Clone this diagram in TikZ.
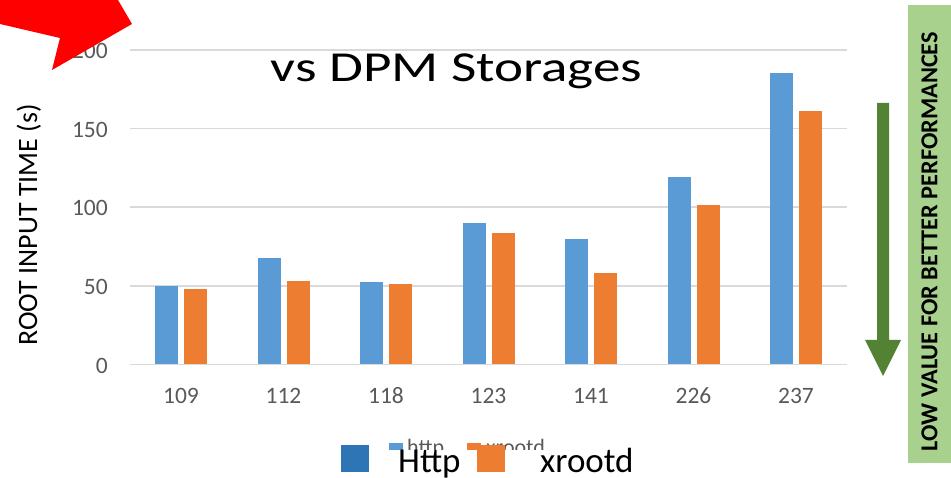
\documentclass[tikz,border=0pt]{standalone}
\usepackage{fontspec}
\setmainfont{Carlito}
\definecolor{barblue}{HTML}{5B9BD5}
\definecolor{barorange}{HTML}{ED7D31}
\definecolor{legblue}{HTML}{2E75B6}
\definecolor{gridgrey}{HTML}{D9D9D9}
\definecolor{ticktext}{HTML}{595959}
\definecolor{lightgreen}{HTML}{A9D18E}
\definecolor{darkgreen}{HTML}{548235}
\begin{document}
\begin{tikzpicture}[x=1pt,y=-1pt,
  gridline/.style={draw=gridgrey,line width=1.5pt},
  ticklabel/.style={text=ticktext,font=\fontsize{23.5}{24}\selectfont,inner sep=0pt},
  catlabel/.style={text=ticktext,font=\fontsize{23.5}{24}\selectfont,inner sep=0pt,anchor=base},
  smalllegend/.style={text=ticktext,font=\fontsize{22}{22}\selectfont,inner sep=0pt,anchor=base west},
  biglegend/.style={text=black,font=\fontsize{35}{35}\selectfont,inner sep=0pt,anchor=base west}]
\useasboundingbox (0,0) rectangle (951,478);
% gridlines
\foreach \v in {0,50,100,150,200}{
  \draw[gridline] (130,{364.5-1.5725*\v}) -- (847,{364.5-1.5725*\v});
  \node[ticklabel,anchor=east] (tick\v) at (108,{365.5-1.5725*\v}) {\v};
}
% bars
\foreach \i/\lab/\a/\b in {0/109/50/48,1/112/68/53.3,2/118/52.6/51.5,3/123/90/83.9,4/141/79.5/58.1,5/226/119/101.3,6/237/185.3/161}{
  \pgfmathsetmacro{\c}{181+102.5*\i}
  \fill[barblue] ({\c-26},364.5) rectangle ({\c-3},{364.5-1.5725*\a});
  \fill[barorange] ({\c+3},364.5) rectangle ({\c+26},{364.5-1.5725*\b});
  \node[catlabel] (cat\lab) at (\c,403) {\lab};
}
% title
\node[anchor=base,inner sep=0pt] (title) at (456.5,82)
  {\scalebox{1.29}[1]{\fontsize{42.7}{43}\selectfont vs DPM Storages}};
% y label
\node[rotate=90,anchor=base,inner sep=0pt,font=\fontsize{28}{28}\selectfont] (ylabel) at (37,225) {ROOT INPUT TIME (s)};
% red arrow
\fill[red] (0,0) -- (118,0) -- (132,24) -- (52,70) -- (60,38) -- (0,24) -- cycle;
% green panel
\fill[lightgreen] (908,5) rectangle (951,463);
\node[rotate=90,anchor=base,inner sep=0pt,font=\fontsize{24.3}{24}\selectfont\bfseries] (note) at (937.3,241.5) {LOW VALUE FOR BETTER PERFORMANCES};
\fill[darkgreen] (877,103) -- (889,103) -- (889,340) -- (901,340) -- (883,376) -- (865,340) -- (877,340) -- cycle;
% small legend
\fill[barblue] (389,443) rectangle (403,457);
\node[smalllegend] (lhttp) at (407,454) {http};
\fill[barorange] (467,443) rectangle (481,457);
\node[smalllegend] (lxrootd) at (486,454) {xrootd};
% big legend
\fill[white] (335,449.5) rectangle (640,478);
\fill[legblue] (341,445) rectangle (369,472);
\node[biglegend] (bhttp) at (398,472) {Http};
\fill[barorange] (477,445) rectangle (505,472);
\node[biglegend] (bxrootd) at (540,472) {xrootd};
\end{tikzpicture}
\end{document}
